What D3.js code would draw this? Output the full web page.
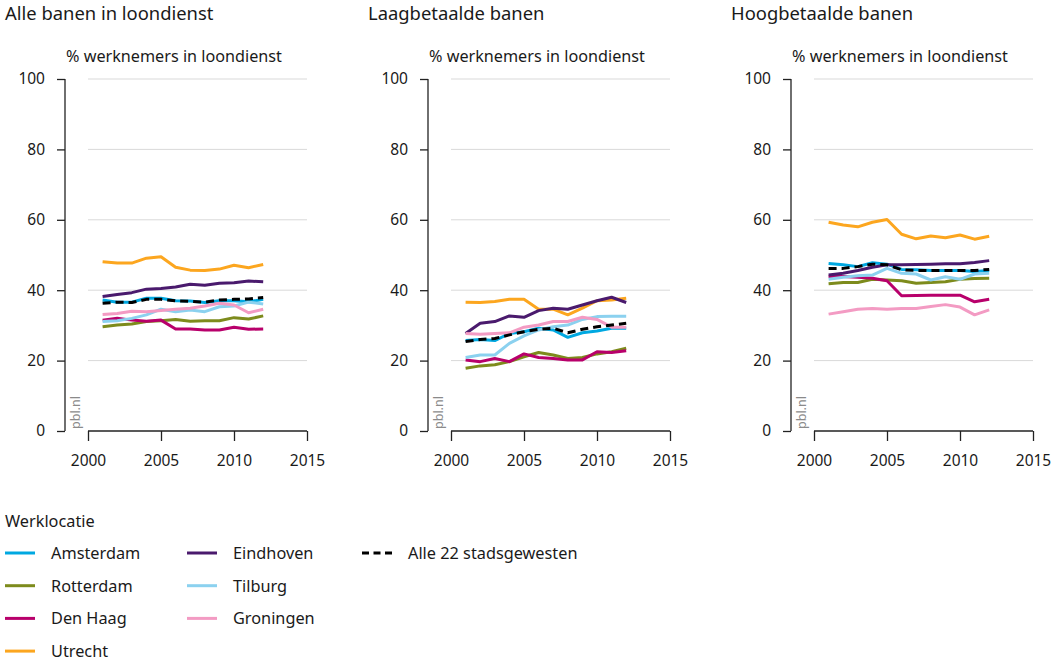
<!DOCTYPE html>
<html><head><meta charset="utf-8">
<script src="https://cdn.jsdelivr.net/npm/d3@7"></script>
<style>
body{margin:0;background:#fff;}
svg{font-family:"Noto Sans",sans-serif;}
</style></head>
<body><svg id="c" width="1062" height="663"></svg>
<script>
const years = [2001,2002,2003,2004,2005,2006,2007,2008,2009,2010,2011,2012];
const panelTitles = ["Alle banen in loondienst","Laagbetaalde banen","Hoogbetaalde banen"];
const yLabel = "% werknemers in loondienst";
const yTicks = [0,20,40,60,80,100];
const xTicks = [2000,2005,2010,2015];
const seriesNames = ["Amsterdam","Rotterdam","Den Haag","Utrecht","Eindhoven","Tilburg","Groningen","Alle 22 stadsgewesten"];
const seriesColors = ["#00a8e1","#7d8b1c","#b8006b","#fca61f","#4a1a6d","#8bd1ef","#f39bc3","#000000"];

// Alle banen in loondienst
const allAmsterdam = [37.2,36.6,36.6,37.7,37.7,37.0,36.9,36.5,37.0,37.0,36.7,37.4];
const allRotterdam = [29.6,30.1,30.4,31.1,31.3,31.7,31.2,31.3,31.3,32.2,31.8,32.7];
const allDenHaag   = [31.5,32.0,31.5,31.2,31.5,29.0,29.0,28.7,28.7,29.5,28.9,29.0];
const allUtrecht   = [48.1,47.7,47.7,49.1,49.5,46.5,45.7,45.6,46.0,47.1,46.4,47.3];
const allEindhoven = [38.2,38.8,39.3,40.3,40.5,40.9,41.7,41.4,42.0,42.1,42.6,42.4];
const allTilburg   = [31.1,31.3,32.0,33.0,34.6,33.9,34.4,33.9,35.3,35.5,36.6,36.1];
const allGroningen = [33.1,33.4,34.0,33.9,34.2,34.6,34.9,35.5,36.3,35.8,33.6,34.6];
const allTotaal    = [36.3,36.6,36.5,37.4,37.4,37.0,36.8,36.6,37.2,37.4,37.5,37.9];

// Laagbetaalde banen
const laagAmsterdam = [25.7,26.0,25.7,27.7,28.2,29.2,28.7,26.6,27.9,28.4,29.2,29.2];
const laagRotterdam = [17.8,18.5,18.8,19.7,21.1,22.3,21.6,20.6,20.9,21.9,22.5,23.5];
const laagDenHaag   = [20.2,19.7,20.6,19.7,21.9,20.9,20.6,20.2,20.2,22.5,22.3,22.8];
const laagUtrecht   = [36.6,36.5,36.8,37.4,37.4,34.6,34.6,33.0,34.9,37.0,37.2,37.7];
const laagEindhoven = [27.7,30.6,31.1,32.7,32.3,34.2,34.9,34.6,35.8,37.0,38.0,36.5];
const laagTilburg   = [20.9,21.6,21.6,24.9,27.0,28.7,29.6,30.1,31.7,32.5,32.6,32.6];
const laagGroningen = [27.7,27.5,27.7,27.9,29.5,30.1,31.1,31.1,32.3,31.7,29.5,29.5];
const laagTotaal    = [25.4,26.0,26.3,27.3,28.2,28.9,29.2,27.9,28.9,29.6,30.1,30.6];

// Hoogbetaalde banen
const hoogAmsterdam = [47.6,47.2,46.7,47.8,47.4,45.9,45.8,45.6,45.6,45.6,45.3,45.6];
const hoogRotterdam = [41.8,42.2,42.2,43.1,42.9,42.7,42.0,42.2,42.4,43.1,43.3,43.4];
const hoogDenHaag   = [43.9,43.9,43.7,43.4,42.7,38.4,38.5,38.6,38.6,38.6,36.7,37.4];
const hoogUtrecht   = [59.3,58.5,58.0,59.3,60.1,55.9,54.6,55.4,54.9,55.7,54.5,55.3];
const hoogEindhoven = [44.3,44.8,45.6,46.5,47.2,47.2,47.3,47.4,47.5,47.5,47.9,48.4];
const hoogTilburg   = [43.1,43.7,44.1,44.3,46.2,44.8,44.6,42.9,43.8,43.1,44.6,44.8];
const hoogGroningen = [33.2,33.9,34.6,34.8,34.6,34.8,34.8,35.4,35.9,35.2,33.0,34.4];
const hoogTotaal    = [46.2,46.2,46.7,47.4,47.2,45.8,45.6,45.6,45.6,45.6,45.6,45.9];

const panels = [
  [allAmsterdam,allRotterdam,allDenHaag,allUtrecht,allEindhoven,allTilburg,allGroningen,allTotaal],
  [laagAmsterdam,laagRotterdam,laagDenHaag,laagUtrecht,laagEindhoven,laagTilburg,laagGroningen,laagTotaal],
  [hoogAmsterdam,hoogRotterdam,hoogDenHaag,hoogUtrecht,hoogEindhoven,hoogTilburg,hoogGroningen,hoogTotaal]
];

const svg = d3.select("#c");
const panelDx = 363;
const textCol = "#1a1a1a";

panels.forEach((pdata, pi) => {
  const ox = pi * panelDx;
  const g = svg.append("g").attr("transform", `translate(${ox},0)`);
  const x = d3.scaleLinear().domain([2000,2015]).range([88,307]);
  const y = d3.scaleLinear().domain([0,100]).range([431,79]);

  g.append("text").attr("x",5).attr("y",20).attr("font-size",18.4).attr("fill",textCol).text(panelTitles[pi]);
  g.append("text").attr("x",66).attr("y",62).attr("font-size",16.2).attr("fill",textCol).text(yLabel);

  // gridlines
  g.append("g").selectAll("line").data(yTicks.filter(d=>d>0)).join("line")
    .attr("x1",88).attr("x2",307).attr("y1",d=>y(d)).attr("y2",d=>y(d))
    .attr("stroke","#d9d9d9").attr("stroke-width",1);

  // y axis
  const ya = g.append("g").attr("transform","translate(65,0)")
    .call(d3.axisLeft(y).tickValues(yTicks).tickSize(8).tickPadding(12));
  ya.select(".domain").attr("stroke","#222").attr("stroke-width",1.3).attr("d","M0,79V431");
  ya.selectAll(".tick line").attr("stroke","#222").attr("stroke-width",1.3);
  ya.selectAll("text").attr("font-size",15.5).attr("fill",textCol).attr("font-family","Noto Sans");

  // x axis
  const xa = g.append("g").attr("transform","translate(0,431)")
    .call(d3.axisBottom(x).tickValues(xTicks).tickFormat(d3.format("d")).tickSize(10).tickPadding(14));
  xa.select(".domain").attr("stroke","#222").attr("stroke-width",1.3).attr("d","M88,0H307");
  xa.selectAll(".tick line").attr("stroke","#222").attr("stroke-width",1.3);
  xa.selectAll("text").attr("font-size",15.5).attr("fill",textCol).attr("font-family","Noto Sans");

  g.append("text").attr("transform","translate(80,429) rotate(-90)")
    .attr("font-size",12.5).attr("fill","#8a8a8a").text("pbl.nl");

  const line = d3.line().x((d,i)=>x(years[i])).y(d=>y(d));
  pdata.forEach((vals, si) => {
    g.append("path").datum(vals).attr("d",line).attr("fill","none")
      .attr("stroke",seriesColors[si]).attr("stroke-width",3)
      .attr("stroke-linejoin","round")
      .attr("stroke-dasharray", si===7 ? "8,5" : null);
  });
});

// legend
svg.append("text").attr("x",5).attr("y",527).attr("font-size",16.3).attr("fill",textCol).text("Werklocatie");
const legendPos = [[0,0],[0,1],[0,2],[0,3],[1,0],[1,1],[1,2],[2,0]];
const colX = [5,187,362];
seriesNames.forEach((name,i)=>{
  const [c,r] = legendPos[i];
  const ly = 553 + r*32.7;
  svg.append("line").attr("x1",colX[c]).attr("x2",colX[c]+30).attr("y1",ly).attr("y2",ly)
    .attr("stroke",seriesColors[i]).attr("stroke-width",3)
    .attr("stroke-dasharray", i===7 ? "7,4.5" : null);
  svg.append("text").attr("x",colX[c]+46).attr("y",ly+6).attr("font-size",16.3).attr("fill",textCol).text(name);
});
</script></body></html>
